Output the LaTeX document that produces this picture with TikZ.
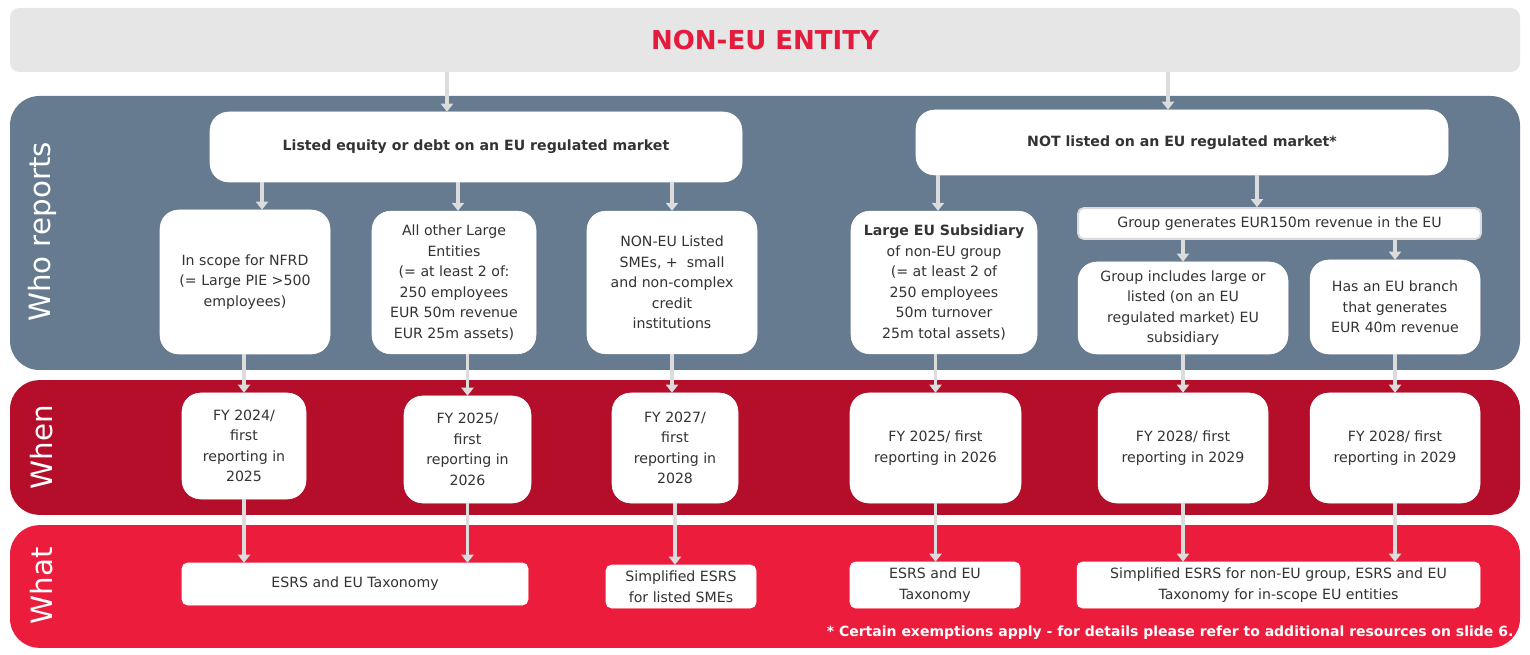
\documentclass[tikz,border=0pt]{standalone}
\usepackage{fontspec}
\setmainfont{DejaVu Sans}
\usetikzlibrary{arrows.meta}
\definecolor{titlegray}{HTML}{E6E6E6}
\definecolor{titlered}{HTML}{E31B3C}
\definecolor{whoblue}{HTML}{667B8F}
\definecolor{whendark}{HTML}{B50E2A}
\definecolor{whatred}{HTML}{EC1C3C}
\definecolor{boxtext}{HTML}{333333}
\definecolor{arrowgray}{HTML}{DCDCDC}

\begin{document}
\begin{tikzpicture}[x=0.75pt, y=-0.75pt,
    box/.style={rectangle, draw=white, fill=white, rounded corners=14pt,
      align=center, text=boxtext, font=\fontsize{10.6}{15.4}\selectfont, inner sep=2pt},
    groupbox/.style={box, draw=arrowgray, line width=1.5pt, rounded corners=4pt},
    band/.style={rectangle, rounded corners=22pt},
    bandlabel/.style={rotate=90, text=white, font=\fontsize{22}{26}\selectfont},
    flow/.style={draw=arrowgray, line width=2.6pt, -{Triangle[width=9pt,length=6pt]}}
  ]
  \useasboundingbox (0,0) rectangle (1530,655);

  % bands
  \node[band, rounded corners=7pt, fill=titlegray, minimum width=1132.5pt, minimum height=48pt] (title) at (765,40)
    {\textcolor{titlered}{\fontsize{19.5}{24}\selectfont\bfseries NON-EU ENTITY}};
  \node[band, fill=whoblue, minimum width=1132.5pt, minimum height=205.5pt] (who) at (765,233) {};
  \node[band, fill=whendark, minimum width=1132.5pt, minimum height=101pt] (when) at (765,447.5) {};
  \node[band, fill=whatred, minimum width=1132.5pt, minimum height=92pt] (what) at (765,586.5) {};
  \node[bandlabel] (wholbl) at (42,232) {Who reports};
  \node[bandlabel] (whenlbl) at (42,447) {When};
  \node[bandlabel] (whatlbl) at (42,586) {What};

  % who reports
  \node[box, minimum width=399pt, minimum height=52.5pt] (listed) at (476,147)
    {\textbf{Listed equity or debt on an EU regulated market}};
  \node[box, minimum width=399pt, minimum height=48.75pt] (notlisted) at (1182,142.5)
    {\textbf{NOT listed on an EU regulated market*}};
  \node[box, minimum width=127.5pt, minimum height=108pt] (nfrd) at (245,282)
    {In scope for NFRD\\(= Large PIE >500\\employees)};
  \node[box, minimum width=123pt, minimum height=107pt] (large) at (454,282.5)
    {All other Large\\Entities\\(= at least 2 of:\\250 employees\\EUR 50m revenue\\EUR 25m assets)};
  \node[box, minimum width=127.5pt, minimum height=107pt] (smes) at (672,282.5)
    {NON-EU Listed\\SMEs, +\ \ small\\and non-complex\\credit\\institutions};
  \node[box, minimum width=139.5pt, minimum height=107pt] (subsid) at (944,282.5)
    {\textbf{Large EU Subsidiary}\\of non-EU group\\(= at least 2 of\\250 employees\\50m turnover\\25m total assets)};
  \node[groupbox, minimum width=302pt, minimum height=23pt] (group) at (1279.5,223.5)
    {Group generates EUR150m revenue in the EU};
  \node[box, minimum width=157.5pt, minimum height=69pt] (includes) at (1183,308)
    {Group includes large or\\listed (on an EU\\regulated market) EU\\subsidiary};
  \node[box, minimum width=127.5pt, minimum height=70.5pt] (branch) at (1395,307)
    {Has an EU branch\\that generates\\EUR 40m revenue};

  % when
  \node[box, minimum width=93pt, minimum height=79.5pt] (fy24) at (244,446)
    {FY 2024/\\first\\reporting in\\2025};
  \node[box, minimum width=95.25pt, minimum height=80.25pt] (fy25) at (467.5,449.5)
    {FY 2025/\\first\\reporting in\\2026};
  \node[box, minimum width=94.5pt, minimum height=82.5pt] (fy27) at (675,448)
    {FY 2027/\\first\\reporting in\\2028};
  \node[box, minimum width=128.25pt, minimum height=82.5pt] (fy25b) at (935.5,448)
    {FY 2025/ first\\reporting in 2026};
  \node[box, minimum width=127.5pt, minimum height=82.5pt] (fy28a) at (1183,448)
    {FY 2028/ first\\reporting in 2029};
  \node[box, minimum width=127.5pt, minimum height=82.5pt] (fy28b) at (1395,448)
    {FY 2028/ first\\reporting in 2029};

  % what
  \node[box, rounded corners=4pt, minimum width=259.5pt, minimum height=31.5pt] (esrs1) at (355,584)
    {ESRS and EU Taxonomy};
  \node[box, rounded corners=4pt, minimum width=112.5pt, minimum height=32.25pt] (simple1) at (681,586.5)
    {Simplified ESRS\\for listed SMEs};
  \node[box, rounded corners=4pt, minimum width=127.5pt, minimum height=34.5pt] (esrs2) at (935,585)
    {ESRS and EU\\Taxonomy};
  \node[box, rounded corners=4pt, minimum width=302.25pt, minimum height=34.5pt] (simple2) at (1278.5,585)
    {Simplified ESRS for non-EU group, ESRS and EU\\Taxonomy for in-scope EU entities};
  \node[anchor=east, text=white, font=\fontsize{10.5}{12}\selectfont\bfseries] (note) at (1518,633)
    {* Certain exemptions apply - for details please refer to additional resources on slide 6.};

  % connectors
  \coordinate (lsplit) at (447,0);
  \coordinate (nsplit) at (1168,0);
  \draw[flow] (title.south -| lsplit) -- (listed.north -| lsplit);
  \draw[flow] (title.south -| nsplit) -- (notlisted.north -| nsplit);
  \draw[flow] (listed.south -| 262,0) -- (nfrd.north -| 262,0);
  \draw[flow] (listed.south -| 458,0) -- (large.north -| 458,0);
  \draw[flow] (listed.south -| smes.north) -- (smes.north);
  \draw[flow] (notlisted.south -| 938,0) -- (subsid.north -| 938,0);
  \draw[flow] (notlisted.south -| 1257,0) -- (group.north -| 1257,0);
  \draw[flow] (group.south -| includes.north) -- (includes.north);
  \draw[flow] (group.south -| branch.north) -- (branch.north);
  \draw[flow] (nfrd.south -| fy24.north) -- (fy24.north);
  \draw[flow] (large.south -| fy25.north) -- (fy25.north);
  \draw[flow] (smes.south) -- (fy27.north -| smes.south);
  \draw[flow] (subsid.south -| fy25b.north) -- (fy25b.north);
  \draw[flow] (includes.south) -- (fy28a.north);
  \draw[flow] (branch.south) -- (fy28b.north);
  \draw[flow] (fy24.south) -- (esrs1.north -| fy24.south);
  \draw[flow] (fy25.south) -- (esrs1.north -| fy25.south);
  \draw[flow] (fy27.south) -- (simple1.north -| fy27.south);
  \draw[flow] (fy25b.south) -- (esrs2.north -| fy25b.south);
  \draw[flow] (fy28a.south) -- (simple2.north -| fy28a.south);
  \draw[flow] (fy28b.south) -- (simple2.north -| fy28b.south);
\end{tikzpicture}
\end{document}
